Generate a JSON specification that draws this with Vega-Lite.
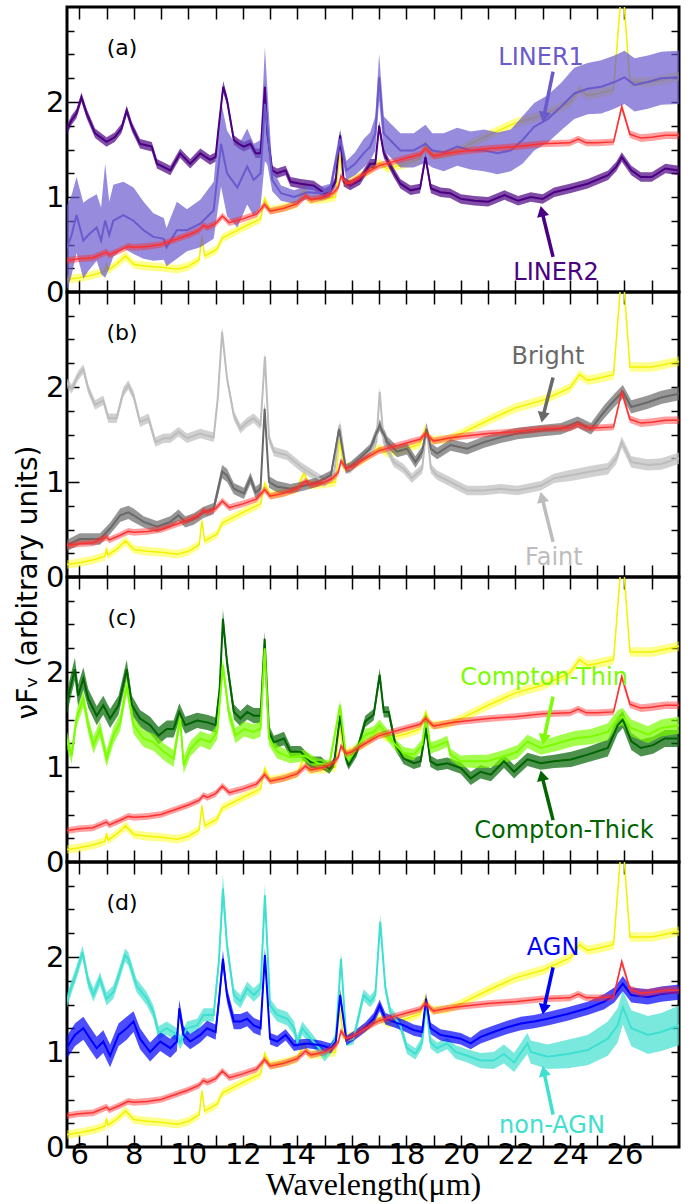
{
"$schema":"https://vega.github.io/schema/vega-lite/v6.json",
"background":"white",
"padding":{"left":12,"top":4,"right":5,"bottom":0},
"config":{"view":{"stroke":"black","strokeWidth":3},"axis":{"tickColor":"black","tickWidth":1.5,"labelColor":"black","labelFont":"DejaVu Sans","labelFontSize":29,"domain":false,"grid":false,"labelFlush":false,"labelOverlap":false}},
"datasets":{
"tmpl":[
{"s":"red","x":5.53,"y":0.33,"e":0.035},{"s":"red","x":6.0,"y":0.35,"e":0.035},{"s":"red","x":6.5,"y":0.36,"e":0.035},{"s":"red","x":7.0,"y":0.42,"e":0.035},{"s":"red","x":7.1,"y":0.39,"e":0.035},{"s":"red","x":7.5,"y":0.44,"e":0.035},{"s":"red","x":7.8,"y":0.48,"e":0.035},{"s":"red","x":8.0,"y":0.47,"e":0.035},{"s":"red","x":8.5,"y":0.48,"e":0.035},{"s":"red","x":9.0,"y":0.5,"e":0.035},{"s":"red","x":9.5,"y":0.55,"e":0.035},{"s":"red","x":10.0,"y":0.6,"e":0.035},{"s":"red","x":10.4,"y":0.65,"e":0.035},{"s":"red","x":10.55,"y":0.7,"e":0.035},{"s":"red","x":10.7,"y":0.68,"e":0.035},{"s":"red","x":11.0,"y":0.72,"e":0.035},{"s":"red","x":11.25,"y":0.8,"e":0.035},{"s":"red","x":11.5,"y":0.73,"e":0.035},{"s":"red","x":12.0,"y":0.77,"e":0.035},{"s":"red","x":12.5,"y":0.82,"e":0.035},{"s":"red","x":12.8,"y":0.92,"e":0.035},{"s":"red","x":13.0,"y":0.85,"e":0.035},{"s":"red","x":13.5,"y":0.88,"e":0.035},{"s":"red","x":14.0,"y":0.93,"e":0.035},{"s":"red","x":14.3,"y":1.01,"e":0.035},{"s":"red","x":14.5,"y":0.97,"e":0.035},{"s":"red","x":15.0,"y":1.0,"e":0.035},{"s":"red","x":15.3,"y":1.04,"e":0.035},{"s":"red","x":15.5,"y":1.1,"e":0.035},{"s":"red","x":15.6,"y":1.22,"e":0.035},{"s":"red","x":15.8,"y":1.14,"e":0.035},{"s":"red","x":16.0,"y":1.16,"e":0.035},{"s":"red","x":16.5,"y":1.25,"e":0.035},{"s":"red","x":17.0,"y":1.33,"e":0.035},{"s":"red","x":17.5,"y":1.37,"e":0.035},{"s":"red","x":18.0,"y":1.41,"e":0.035},{"s":"red","x":18.5,"y":1.45,"e":0.035},{"s":"red","x":18.7,"y":1.51,"e":0.035},{"s":"red","x":19.0,"y":1.43,"e":0.035},{"s":"red","x":19.5,"y":1.46,"e":0.035},{"s":"red","x":20.0,"y":1.48,"e":0.035},{"s":"red","x":21.0,"y":1.51,"e":0.035},{"s":"red","x":22.0,"y":1.53,"e":0.035},{"s":"red","x":23.0,"y":1.56,"e":0.035},{"s":"red","x":24.0,"y":1.57,"e":0.035},{"s":"red","x":24.3,"y":1.61,"e":0.035},{"s":"red","x":24.6,"y":1.57,"e":0.035},{"s":"red","x":25.0,"y":1.57,"e":0.035},{"s":"red","x":25.6,"y":1.58,"e":0.035},{"s":"red","x":25.9,"y":1.95,"e":0.04},{"s":"red","x":26.2,"y":1.66,"e":0.04},{"s":"red","x":26.6,"y":1.62,"e":0.04},{"s":"red","x":27.0,"y":1.63,"e":0.04},{"s":"red","x":27.5,"y":1.65,"e":0.04},{"s":"red","x":28.0,"y":1.65,"e":0.04},
{"s":"yellow","x":5.53,"y":0.13,"e":0.045},{"s":"yellow","x":6.0,"y":0.15,"e":0.045},{"s":"yellow","x":6.5,"y":0.18,"e":0.045},{"s":"yellow","x":6.95,"y":0.22,"e":0.045},{"s":"yellow","x":7.0,"y":0.3,"e":0.045},{"s":"yellow","x":7.05,"y":0.23,"e":0.045},{"s":"yellow","x":7.4,"y":0.3,"e":0.045},{"s":"yellow","x":7.7,"y":0.38,"e":0.05},{"s":"yellow","x":8.0,"y":0.29,"e":0.045},{"s":"yellow","x":8.5,"y":0.27,"e":0.045},{"s":"yellow","x":9.0,"y":0.26,"e":0.045},{"s":"yellow","x":9.6,"y":0.24,"e":0.045},{"s":"yellow","x":10.0,"y":0.27,"e":0.045},{"s":"yellow","x":10.4,"y":0.34,"e":0.045},{"s":"yellow","x":10.5,"y":0.59,"e":0.045},{"s":"yellow","x":10.6,"y":0.38,"e":0.045},{"s":"yellow","x":11.05,"y":0.45,"e":0.045},{"s":"yellow","x":11.25,"y":0.57,"e":0.045},{"s":"yellow","x":11.4,"y":0.59,"e":0.045},{"s":"yellow","x":12.0,"y":0.68,"e":0.045},{"s":"yellow","x":12.65,"y":0.77,"e":0.045},{"s":"yellow","x":12.8,"y":0.98,"e":0.045},{"s":"yellow","x":13.0,"y":0.86,"e":0.045},{"s":"yellow","x":13.5,"y":0.89,"e":0.045},{"s":"yellow","x":14.0,"y":0.93,"e":0.045},{"s":"yellow","x":14.25,"y":1.1,"e":0.045},{"s":"yellow","x":14.4,"y":0.97,"e":0.045},{"s":"yellow","x":15.0,"y":0.98,"e":0.045},{"s":"yellow","x":15.4,"y":1.0,"e":0.045},{"s":"yellow","x":15.55,"y":1.45,"e":0.045},{"s":"yellow","x":15.7,"y":1.15,"e":0.045},{"s":"yellow","x":16.0,"y":1.17,"e":0.045},{"s":"yellow","x":16.5,"y":1.25,"e":0.045},{"s":"yellow","x":17.0,"y":1.36,"e":0.045},{"s":"yellow","x":17.3,"y":1.3,"e":0.045},{"s":"yellow","x":18.0,"y":1.35,"e":0.045},{"s":"yellow","x":18.5,"y":1.4,"e":0.045},{"s":"yellow","x":18.7,"y":1.57,"e":0.045},{"s":"yellow","x":18.9,"y":1.44,"e":0.045},{"s":"yellow","x":19.5,"y":1.45,"e":0.045},{"s":"yellow","x":20.0,"y":1.51,"e":0.045},{"s":"yellow","x":21.0,"y":1.65,"e":0.05},{"s":"yellow","x":22.0,"y":1.78,"e":0.05},{"s":"yellow","x":23.0,"y":1.86,"e":0.05},{"s":"yellow","x":24.0,"y":1.99,"e":0.05},{"s":"yellow","x":24.35,"y":2.13,"e":0.05},{"s":"yellow","x":24.65,"y":2.07,"e":0.05},{"s":"yellow","x":25.0,"y":2.09,"e":0.05},{"s":"yellow","x":25.6,"y":2.13,"e":0.05},{"s":"yellow","x":25.92,"y":3.3,"e":0.05},{"s":"yellow","x":26.2,"y":2.21,"e":0.05},{"s":"yellow","x":27.0,"y":2.21,"e":0.05},{"s":"yellow","x":27.5,"y":2.24,"e":0.05},{"s":"yellow","x":28.0,"y":2.27,"e":0.05}
],
"spec":[
{"p":"a","s":"LINER2","x":5.53,"y":1.7,"e":0.05},{"p":"a","s":"LINER2","x":5.72,"y":1.81,"e":0.05},{"p":"a","s":"LINER2","x":5.9,"y":1.88,"e":0.05},{"p":"a","s":"LINER2","x":6.08,"y":2.05,"e":0.05},{"p":"a","s":"LINER2","x":6.27,"y":1.88,"e":0.05},{"p":"a","s":"LINER2","x":6.58,"y":1.67,"e":0.05},{"p":"a","s":"LINER2","x":7.0,"y":1.58,"e":0.05},{"p":"a","s":"LINER2","x":7.3,"y":1.63,"e":0.05},{"p":"a","s":"LINER2","x":7.55,"y":1.72,"e":0.05},{"p":"a","s":"LINER2","x":7.74,"y":1.91,"e":0.05},{"p":"a","s":"LINER2","x":7.93,"y":1.74,"e":0.05},{"p":"a","s":"LINER2","x":8.23,"y":1.56,"e":0.05},{"p":"a","s":"LINER2","x":8.66,"y":1.53,"e":0.05},{"p":"a","s":"LINER2","x":8.85,"y":1.35,"e":0.05},{"p":"a","s":"LINER2","x":9.34,"y":1.28,"e":0.05},{"p":"a","s":"LINER2","x":9.7,"y":1.46,"e":0.05},{"p":"a","s":"LINER2","x":10.07,"y":1.35,"e":0.05},{"p":"a","s":"LINER2","x":10.44,"y":1.46,"e":0.05},{"p":"a","s":"LINER2","x":10.8,"y":1.39,"e":0.05},{"p":"a","s":"LINER2","x":11.0,"y":1.42,"e":0.05},{"p":"a","s":"LINER2","x":11.1,"y":1.7,"e":0.05},{"p":"a","s":"LINER2","x":11.28,"y":2.16,"e":0.06},{"p":"a","s":"LINER2","x":11.42,"y":2.02,"e":0.05},{"p":"a","s":"LINER2","x":11.67,"y":1.6,"e":0.05},{"p":"a","s":"LINER2","x":11.85,"y":1.56,"e":0.05},{"p":"a","s":"LINER2","x":12.04,"y":1.53,"e":0.05},{"p":"a","s":"LINER2","x":12.28,"y":1.56,"e":0.05},{"p":"a","s":"LINER2","x":12.47,"y":1.46,"e":0.05},{"p":"a","s":"LINER2","x":12.65,"y":1.46,"e":0.05},{"p":"a","s":"LINER2","x":12.81,"y":2.16,"e":0.06},{"p":"a","s":"LINER2","x":12.9,"y":1.67,"e":0.05},{"p":"a","s":"LINER2","x":13.08,"y":1.28,"e":0.05},{"p":"a","s":"LINER2","x":13.26,"y":1.25,"e":0.05},{"p":"a","s":"LINER2","x":13.57,"y":1.28,"e":0.05},{"p":"a","s":"LINER2","x":13.75,"y":1.16,"e":0.05},{"p":"a","s":"LINER2","x":14.12,"y":1.14,"e":0.05},{"p":"a","s":"LINER2","x":14.6,"y":1.12,"e":0.05},{"p":"a","s":"LINER2","x":15.0,"y":1.04,"e":0.05},{"p":"a","s":"LINER2","x":15.2,"y":1.07,"e":0.05},{"p":"a","s":"LINER2","x":15.4,"y":1.16,"e":0.05},{"p":"a","s":"LINER2","x":15.57,"y":1.65,"e":0.05},{"p":"a","s":"LINER2","x":15.7,"y":1.16,"e":0.05},{"p":"a","s":"LINER2","x":15.94,"y":1.12,"e":0.05},{"p":"a","s":"LINER2","x":16.3,"y":1.18,"e":0.05},{"p":"a","s":"LINER2","x":16.67,"y":1.35,"e":0.05},{"p":"a","s":"LINER2","x":16.86,"y":1.35,"e":0.05},{"p":"a","s":"LINER2","x":17.0,"y":1.75,"e":0.05},{"p":"a","s":"LINER2","x":17.17,"y":1.46,"e":0.05},{"p":"a","s":"LINER2","x":17.53,"y":1.26,"e":0.05},{"p":"a","s":"LINER2","x":17.78,"y":1.14,"e":0.05},{"p":"a","s":"LINER2","x":18.15,"y":1.07,"e":0.05},{"p":"a","s":"LINER2","x":18.5,"y":1.09,"e":0.05},{"p":"a","s":"LINER2","x":18.7,"y":1.42,"e":0.05},{"p":"a","s":"LINER2","x":18.9,"y":1.09,"e":0.05},{"p":"a","s":"LINER2","x":19.25,"y":1.05,"e":0.05},{"p":"a","s":"LINER2","x":19.6,"y":1.04,"e":0.05},{"p":"a","s":"LINER2","x":20.0,"y":0.98,"e":0.05},{"p":"a","s":"LINER2","x":20.5,"y":0.96,"e":0.05},{"p":"a","s":"LINER2","x":21.0,"y":0.95,"e":0.05},{"p":"a","s":"LINER2","x":21.6,"y":1.02,"e":0.05},{"p":"a","s":"LINER2","x":22.1,"y":0.96,"e":0.05},{"p":"a","s":"LINER2","x":22.56,"y":1.0,"e":0.05},{"p":"a","s":"LINER2","x":23.0,"y":0.98,"e":0.05},{"p":"a","s":"LINER2","x":23.42,"y":1.05,"e":0.05},{"p":"a","s":"LINER2","x":24.0,"y":1.09,"e":0.05},{"p":"a","s":"LINER2","x":24.65,"y":1.14,"e":0.05},{"p":"a","s":"LINER2","x":25.4,"y":1.23,"e":0.05},{"p":"a","s":"LINER2","x":25.7,"y":1.32,"e":0.05},{"p":"a","s":"LINER2","x":25.9,"y":1.42,"e":0.05},{"p":"a","s":"LINER2","x":26.25,"y":1.28,"e":0.05},{"p":"a","s":"LINER2","x":26.6,"y":1.21,"e":0.05},{"p":"a","s":"LINER2","x":27.0,"y":1.21,"e":0.05},{"p":"a","s":"LINER2","x":27.5,"y":1.3,"e":0.05},{"p":"a","s":"LINER2","x":28.0,"y":1.28,"e":0.05},
{"p":"a","s":"LINER1","x":5.53,"y":0.45,"e":0.45},{"p":"a","s":"LINER1","x":5.72,"y":0.6,"e":0.42},{"p":"a","s":"LINER1","x":5.9,"y":0.81,"e":0.4},{"p":"a","s":"LINER1","x":6.15,"y":0.54,"e":0.4},{"p":"a","s":"LINER1","x":6.33,"y":0.6,"e":0.38},{"p":"a","s":"LINER1","x":6.64,"y":0.68,"e":0.35},{"p":"a","s":"LINER1","x":6.8,"y":0.54,"e":0.35},{"p":"a","s":"LINER1","x":6.95,"y":0.75,"e":0.6},{"p":"a","s":"LINER1","x":7.1,"y":0.6,"e":0.35},{"p":"a","s":"LINER1","x":7.25,"y":0.75,"e":0.38},{"p":"a","s":"LINER1","x":7.62,"y":0.81,"e":0.35},{"p":"a","s":"LINER1","x":7.99,"y":0.75,"e":0.35},{"p":"a","s":"LINER1","x":8.36,"y":0.65,"e":0.3},{"p":"a","s":"LINER1","x":8.72,"y":0.58,"e":0.25},{"p":"a","s":"LINER1","x":9.1,"y":0.56,"e":0.22},{"p":"a","s":"LINER1","x":9.2,"y":0.47,"e":0.2},{"p":"a","s":"LINER1","x":9.58,"y":0.65,"e":0.3},{"p":"a","s":"LINER1","x":9.95,"y":0.65,"e":0.22},{"p":"a","s":"LINER1","x":10.44,"y":0.72,"e":0.25},{"p":"a","s":"LINER1","x":10.93,"y":0.86,"e":0.3},{"p":"a","s":"LINER1","x":11.2,"y":1.56,"e":0.45},{"p":"a","s":"LINER1","x":11.42,"y":1.25,"e":0.45},{"p":"a","s":"LINER1","x":11.8,"y":1.1,"e":0.42},{"p":"a","s":"LINER1","x":12.16,"y":1.32,"e":0.4},{"p":"a","s":"LINER1","x":12.4,"y":1.18,"e":0.38},{"p":"a","s":"LINER1","x":12.65,"y":1.25,"e":0.35},{"p":"a","s":"LINER1","x":12.81,"y":1.98,"e":0.6},{"p":"a","s":"LINER1","x":12.9,"y":1.74,"e":0.4},{"p":"a","s":"LINER1","x":13.08,"y":1.18,"e":0.12},{"p":"a","s":"LINER1","x":13.4,"y":1.04,"e":0.08},{"p":"a","s":"LINER1","x":13.88,"y":1.0,"e":0.07},{"p":"a","s":"LINER1","x":14.37,"y":1.05,"e":0.07},{"p":"a","s":"LINER1","x":14.86,"y":1.04,"e":0.07},{"p":"a","s":"LINER1","x":15.2,"y":1.07,"e":0.07},{"p":"a","s":"LINER1","x":15.57,"y":1.61,"e":0.1},{"p":"a","s":"LINER1","x":15.8,"y":1.28,"e":0.1},{"p":"a","s":"LINER1","x":16.12,"y":1.35,"e":0.12},{"p":"a","s":"LINER1","x":16.43,"y":1.46,"e":0.15},{"p":"a","s":"LINER1","x":16.67,"y":1.53,"e":0.15},{"p":"a","s":"LINER1","x":16.86,"y":1.67,"e":0.18},{"p":"a","s":"LINER1","x":17.0,"y":2.26,"e":0.25},{"p":"a","s":"LINER1","x":17.17,"y":1.67,"e":0.18},{"p":"a","s":"LINER1","x":17.4,"y":1.6,"e":0.18},{"p":"a","s":"LINER1","x":17.78,"y":1.49,"e":0.18},{"p":"a","s":"LINER1","x":18.27,"y":1.49,"e":0.18},{"p":"a","s":"LINER1","x":18.7,"y":1.56,"e":0.2},{"p":"a","s":"LINER1","x":18.95,"y":1.49,"e":0.18},{"p":"a","s":"LINER1","x":19.37,"y":1.47,"e":0.2},{"p":"a","s":"LINER1","x":19.86,"y":1.53,"e":0.2},{"p":"a","s":"LINER1","x":20.36,"y":1.49,"e":0.2},{"p":"a","s":"LINER1","x":20.85,"y":1.49,"e":0.22},{"p":"a","s":"LINER1","x":21.34,"y":1.46,"e":0.22},{"p":"a","s":"LINER1","x":21.83,"y":1.49,"e":0.22},{"p":"a","s":"LINER1","x":22.26,"y":1.6,"e":0.25},{"p":"a","s":"LINER1","x":22.69,"y":1.74,"e":0.25},{"p":"a","s":"LINER1","x":23.18,"y":1.82,"e":0.25},{"p":"a","s":"LINER1","x":23.67,"y":1.95,"e":0.25},{"p":"a","s":"LINER1","x":24.16,"y":2.09,"e":0.27},{"p":"a","s":"LINER1","x":24.65,"y":2.14,"e":0.27},{"p":"a","s":"LINER1","x":25.15,"y":2.16,"e":0.28},{"p":"a","s":"LINER1","x":25.63,"y":2.21,"e":0.28},{"p":"a","s":"LINER1","x":26.0,"y":2.26,"e":0.28},{"p":"a","s":"LINER1","x":26.37,"y":2.18,"e":0.28},{"p":"a","s":"LINER1","x":26.86,"y":2.21,"e":0.28},{"p":"a","s":"LINER1","x":27.35,"y":2.25,"e":0.28},{"p":"a","s":"LINER1","x":28.0,"y":2.26,"e":0.28},
{"p":"b","s":"Faint","x":5.53,"y":2.05,"e":0.05},{"p":"b","s":"Faint","x":5.72,"y":1.98,"e":0.05},{"p":"b","s":"Faint","x":5.96,"y":2.12,"e":0.05},{"p":"b","s":"Faint","x":6.15,"y":2.19,"e":0.05},{"p":"b","s":"Faint","x":6.33,"y":1.98,"e":0.05},{"p":"b","s":"Faint","x":6.58,"y":1.81,"e":0.05},{"p":"b","s":"Faint","x":6.88,"y":1.86,"e":0.05},{"p":"b","s":"Faint","x":7.07,"y":1.67,"e":0.05},{"p":"b","s":"Faint","x":7.37,"y":1.67,"e":0.05},{"p":"b","s":"Faint","x":7.62,"y":1.95,"e":0.05},{"p":"b","s":"Faint","x":7.8,"y":2.02,"e":0.05},{"p":"b","s":"Faint","x":7.99,"y":1.91,"e":0.05},{"p":"b","s":"Faint","x":8.23,"y":1.63,"e":0.05},{"p":"b","s":"Faint","x":8.54,"y":1.67,"e":0.05},{"p":"b","s":"Faint","x":8.79,"y":1.42,"e":0.05},{"p":"b","s":"Faint","x":9.1,"y":1.46,"e":0.05},{"p":"b","s":"Faint","x":9.34,"y":1.46,"e":0.05},{"p":"b","s":"Faint","x":9.64,"y":1.53,"e":0.05},{"p":"b","s":"Faint","x":9.95,"y":1.46,"e":0.05},{"p":"b","s":"Faint","x":10.44,"y":1.51,"e":0.05},{"p":"b","s":"Faint","x":10.93,"y":1.47,"e":0.05},{"p":"b","s":"Faint","x":11.08,"y":1.88,"e":0.05},{"p":"b","s":"Faint","x":11.24,"y":2.58,"e":0.06},{"p":"b","s":"Faint","x":11.42,"y":2.09,"e":0.05},{"p":"b","s":"Faint","x":11.67,"y":1.7,"e":0.05},{"p":"b","s":"Faint","x":11.91,"y":1.56,"e":0.05},{"p":"b","s":"Faint","x":12.16,"y":1.63,"e":0.05},{"p":"b","s":"Faint","x":12.4,"y":1.67,"e":0.05},{"p":"b","s":"Faint","x":12.65,"y":1.6,"e":0.05},{"p":"b","s":"Faint","x":12.81,"y":2.32,"e":0.06},{"p":"b","s":"Faint","x":12.96,"y":1.46,"e":0.05},{"p":"b","s":"Faint","x":13.14,"y":1.32,"e":0.05},{"p":"b","s":"Faint","x":13.63,"y":1.28,"e":0.05},{"p":"b","s":"Faint","x":14.12,"y":1.16,"e":0.05},{"p":"b","s":"Faint","x":14.61,"y":1.07,"e":0.05},{"p":"b","s":"Faint","x":15.0,"y":1.0,"e":0.05},{"p":"b","s":"Faint","x":15.35,"y":1.09,"e":0.05},{"p":"b","s":"Faint","x":15.56,"y":1.6,"e":0.05},{"p":"b","s":"Faint","x":15.78,"y":1.14,"e":0.05},{"p":"b","s":"Faint","x":15.94,"y":1.14,"e":0.05},{"p":"b","s":"Faint","x":16.3,"y":1.25,"e":0.05},{"p":"b","s":"Faint","x":16.67,"y":1.32,"e":0.05},{"p":"b","s":"Faint","x":16.9,"y":1.42,"e":0.05},{"p":"b","s":"Faint","x":17.02,"y":1.95,"e":0.05},{"p":"b","s":"Faint","x":17.17,"y":1.42,"e":0.05},{"p":"b","s":"Faint","x":17.53,"y":1.21,"e":0.05},{"p":"b","s":"Faint","x":17.9,"y":1.14,"e":0.05},{"p":"b","s":"Faint","x":18.2,"y":1.04,"e":0.05},{"p":"b","s":"Faint","x":18.58,"y":1.14,"e":0.05},{"p":"b","s":"Faint","x":18.74,"y":1.58,"e":0.05},{"p":"b","s":"Faint","x":18.9,"y":1.14,"e":0.05},{"p":"b","s":"Faint","x":19.13,"y":1.07,"e":0.05},{"p":"b","s":"Faint","x":19.62,"y":1.0,"e":0.05},{"p":"b","s":"Faint","x":20.23,"y":0.91,"e":0.05},{"p":"b","s":"Faint","x":20.85,"y":0.91,"e":0.05},{"p":"b","s":"Faint","x":21.46,"y":0.93,"e":0.05},{"p":"b","s":"Faint","x":22.07,"y":0.91,"e":0.05},{"p":"b","s":"Faint","x":22.93,"y":0.96,"e":0.05},{"p":"b","s":"Faint","x":23.42,"y":1.04,"e":0.05},{"p":"b","s":"Faint","x":24.04,"y":1.07,"e":0.06},{"p":"b","s":"Faint","x":24.77,"y":1.11,"e":0.06},{"p":"b","s":"Faint","x":25.39,"y":1.14,"e":0.06},{"p":"b","s":"Faint","x":25.7,"y":1.25,"e":0.06},{"p":"b","s":"Faint","x":25.9,"y":1.42,"e":0.06},{"p":"b","s":"Faint","x":26.25,"y":1.21,"e":0.06},{"p":"b","s":"Faint","x":26.86,"y":1.18,"e":0.06},{"p":"b","s":"Faint","x":27.35,"y":1.19,"e":0.06},{"p":"b","s":"Faint","x":28.0,"y":1.25,"e":0.06},
{"p":"b","s":"Bright","x":5.53,"y":0.33,"e":0.06},{"p":"b","s":"Bright","x":6.02,"y":0.4,"e":0.06},{"p":"b","s":"Bright","x":6.76,"y":0.4,"e":0.06},{"p":"b","s":"Bright","x":7.13,"y":0.51,"e":0.06},{"p":"b","s":"Bright","x":7.5,"y":0.65,"e":0.07},{"p":"b","s":"Bright","x":7.8,"y":0.68,"e":0.07},{"p":"b","s":"Bright","x":7.99,"y":0.65,"e":0.07},{"p":"b","s":"Bright","x":8.36,"y":0.58,"e":0.06},{"p":"b","s":"Bright","x":8.85,"y":0.53,"e":0.06},{"p":"b","s":"Bright","x":9.34,"y":0.58,"e":0.06},{"p":"b","s":"Bright","x":9.64,"y":0.65,"e":0.06},{"p":"b","s":"Bright","x":9.89,"y":0.58,"e":0.06},{"p":"b","s":"Bright","x":10.2,"y":0.61,"e":0.06},{"p":"b","s":"Bright","x":10.56,"y":0.68,"e":0.06},{"p":"b","s":"Bright","x":10.93,"y":0.72,"e":0.06},{"p":"b","s":"Bright","x":11.24,"y":1.11,"e":0.07},{"p":"b","s":"Bright","x":11.42,"y":1.07,"e":0.07},{"p":"b","s":"Bright","x":11.67,"y":0.93,"e":0.06},{"p":"b","s":"Bright","x":12.04,"y":0.88,"e":0.06},{"p":"b","s":"Bright","x":12.28,"y":1.04,"e":0.06},{"p":"b","s":"Bright","x":12.47,"y":0.89,"e":0.06},{"p":"b","s":"Bright","x":12.65,"y":0.93,"e":0.06},{"p":"b","s":"Bright","x":12.8,"y":1.77,"e":0.07},{"p":"b","s":"Bright","x":12.96,"y":1.0,"e":0.06},{"p":"b","s":"Bright","x":13.26,"y":0.95,"e":0.06},{"p":"b","s":"Bright","x":13.75,"y":0.93,"e":0.05},{"p":"b","s":"Bright","x":14.25,"y":0.96,"e":0.05},{"p":"b","s":"Bright","x":14.74,"y":1.0,"e":0.05},{"p":"b","s":"Bright","x":15.23,"y":1.07,"e":0.05},{"p":"b","s":"Bright","x":15.53,"y":1.56,"e":0.05},{"p":"b","s":"Bright","x":15.78,"y":1.14,"e":0.05},{"p":"b","s":"Bright","x":15.94,"y":1.16,"e":0.05},{"p":"b","s":"Bright","x":16.3,"y":1.25,"e":0.05},{"p":"b","s":"Bright","x":16.67,"y":1.35,"e":0.05},{"p":"b","s":"Bright","x":17.02,"y":1.6,"e":0.06},{"p":"b","s":"Bright","x":17.3,"y":1.42,"e":0.06},{"p":"b","s":"Bright","x":17.66,"y":1.32,"e":0.06},{"p":"b","s":"Bright","x":18.02,"y":1.35,"e":0.06},{"p":"b","s":"Bright","x":18.33,"y":1.21,"e":0.06},{"p":"b","s":"Bright","x":18.58,"y":1.32,"e":0.06},{"p":"b","s":"Bright","x":18.74,"y":1.56,"e":0.06},{"p":"b","s":"Bright","x":18.9,"y":1.35,"e":0.06},{"p":"b","s":"Bright","x":19.13,"y":1.3,"e":0.06},{"p":"b","s":"Bright","x":19.62,"y":1.39,"e":0.06},{"p":"b","s":"Bright","x":20.23,"y":1.35,"e":0.06},{"p":"b","s":"Bright","x":20.85,"y":1.42,"e":0.06},{"p":"b","s":"Bright","x":21.46,"y":1.47,"e":0.06},{"p":"b","s":"Bright","x":22.07,"y":1.51,"e":0.06},{"p":"b","s":"Bright","x":22.93,"y":1.54,"e":0.06},{"p":"b","s":"Bright","x":23.67,"y":1.56,"e":0.06},{"p":"b","s":"Bright","x":24.28,"y":1.63,"e":0.06},{"p":"b","s":"Bright","x":24.77,"y":1.56,"e":0.06},{"p":"b","s":"Bright","x":25.26,"y":1.74,"e":0.07},{"p":"b","s":"Bright","x":25.63,"y":1.86,"e":0.07},{"p":"b","s":"Bright","x":25.94,"y":1.95,"e":0.07},{"p":"b","s":"Bright","x":26.25,"y":1.79,"e":0.07},{"p":"b","s":"Bright","x":26.86,"y":1.84,"e":0.07},{"p":"b","s":"Bright","x":27.35,"y":1.89,"e":0.07},{"p":"b","s":"Bright","x":28.0,"y":1.93,"e":0.07},
{"p":"c","s":"Compton-Thick","x":5.53,"y":1.65,"e":0.12},{"p":"c","s":"Compton-Thick","x":5.72,"y":1.89,"e":0.12},{"p":"c","s":"Compton-Thick","x":5.84,"y":2.03,"e":0.12},{"p":"c","s":"Compton-Thick","x":5.96,"y":1.75,"e":0.12},{"p":"c","s":"Compton-Thick","x":6.15,"y":1.93,"e":0.12},{"p":"c","s":"Compton-Thick","x":6.33,"y":1.72,"e":0.1},{"p":"c","s":"Compton-Thick","x":6.64,"y":1.54,"e":0.1},{"p":"c","s":"Compton-Thick","x":6.88,"y":1.65,"e":0.1},{"p":"c","s":"Compton-Thick","x":7.13,"y":1.51,"e":0.1},{"p":"c","s":"Compton-Thick","x":7.44,"y":1.65,"e":0.1},{"p":"c","s":"Compton-Thick","x":7.74,"y":2.03,"e":0.1},{"p":"c","s":"Compton-Thick","x":7.93,"y":1.65,"e":0.1},{"p":"c","s":"Compton-Thick","x":8.23,"y":1.51,"e":0.09},{"p":"c","s":"Compton-Thick","x":8.6,"y":1.44,"e":0.09},{"p":"c","s":"Compton-Thick","x":8.91,"y":1.33,"e":0.09},{"p":"c","s":"Compton-Thick","x":9.21,"y":1.4,"e":0.09},{"p":"c","s":"Compton-Thick","x":9.46,"y":1.4,"e":0.09},{"p":"c","s":"Compton-Thick","x":9.67,"y":1.58,"e":0.09},{"p":"c","s":"Compton-Thick","x":9.89,"y":1.44,"e":0.09},{"p":"c","s":"Compton-Thick","x":10.32,"y":1.49,"e":0.08},{"p":"c","s":"Compton-Thick","x":10.69,"y":1.47,"e":0.08},{"p":"c","s":"Compton-Thick","x":11.0,"y":1.44,"e":0.08},{"p":"c","s":"Compton-Thick","x":11.15,"y":1.82,"e":0.08},{"p":"c","s":"Compton-Thick","x":11.27,"y":2.56,"e":0.1},{"p":"c","s":"Compton-Thick","x":11.42,"y":2.1,"e":0.08},{"p":"c","s":"Compton-Thick","x":11.67,"y":1.58,"e":0.08},{"p":"c","s":"Compton-Thick","x":11.91,"y":1.51,"e":0.08},{"p":"c","s":"Compton-Thick","x":12.16,"y":1.58,"e":0.08},{"p":"c","s":"Compton-Thick","x":12.4,"y":1.54,"e":0.08},{"p":"c","s":"Compton-Thick","x":12.65,"y":1.54,"e":0.08},{"p":"c","s":"Compton-Thick","x":12.8,"y":2.35,"e":0.08},{"p":"c","s":"Compton-Thick","x":12.96,"y":1.37,"e":0.07},{"p":"c","s":"Compton-Thick","x":13.14,"y":1.26,"e":0.07},{"p":"c","s":"Compton-Thick","x":13.51,"y":1.3,"e":0.07},{"p":"c","s":"Compton-Thick","x":13.75,"y":1.16,"e":0.06},{"p":"c","s":"Compton-Thick","x":14.12,"y":1.16,"e":0.06},{"p":"c","s":"Compton-Thick","x":14.49,"y":1.05,"e":0.06},{"p":"c","s":"Compton-Thick","x":14.86,"y":1.05,"e":0.06},{"p":"c","s":"Compton-Thick","x":15.17,"y":0.98,"e":0.05},{"p":"c","s":"Compton-Thick","x":15.35,"y":1.05,"e":0.05},{"p":"c","s":"Compton-Thick","x":15.57,"y":1.54,"e":0.05},{"p":"c","s":"Compton-Thick","x":15.78,"y":1.09,"e":0.05},{"p":"c","s":"Compton-Thick","x":15.88,"y":1.02,"e":0.05},{"p":"c","s":"Compton-Thick","x":16.18,"y":1.16,"e":0.05},{"p":"c","s":"Compton-Thick","x":16.49,"y":1.48,"e":0.06},{"p":"c","s":"Compton-Thick","x":16.8,"y":1.55,"e":0.06},{"p":"c","s":"Compton-Thick","x":17.02,"y":1.97,"e":0.07},{"p":"c","s":"Compton-Thick","x":17.17,"y":1.58,"e":0.06},{"p":"c","s":"Compton-Thick","x":17.35,"y":1.58,"e":0.06},{"p":"c","s":"Compton-Thick","x":17.6,"y":1.23,"e":0.06},{"p":"c","s":"Compton-Thick","x":17.9,"y":1.09,"e":0.06},{"p":"c","s":"Compton-Thick","x":18.27,"y":1.04,"e":0.06},{"p":"c","s":"Compton-Thick","x":18.52,"y":1.06,"e":0.06},{"p":"c","s":"Compton-Thick","x":18.72,"y":1.41,"e":0.06},{"p":"c","s":"Compton-Thick","x":18.88,"y":1.06,"e":0.06},{"p":"c","s":"Compton-Thick","x":19.13,"y":1.02,"e":0.06},{"p":"c","s":"Compton-Thick","x":19.5,"y":1.04,"e":0.06},{"p":"c","s":"Compton-Thick","x":19.99,"y":0.99,"e":0.06},{"p":"c","s":"Compton-Thick","x":20.36,"y":0.88,"e":0.07},{"p":"c","s":"Compton-Thick","x":20.72,"y":0.95,"e":0.07},{"p":"c","s":"Compton-Thick","x":21.1,"y":0.92,"e":0.07},{"p":"c","s":"Compton-Thick","x":21.58,"y":1.06,"e":0.07},{"p":"c","s":"Compton-Thick","x":21.95,"y":0.95,"e":0.07},{"p":"c","s":"Compton-Thick","x":22.44,"y":1.08,"e":0.07},{"p":"c","s":"Compton-Thick","x":22.93,"y":1.04,"e":0.07},{"p":"c","s":"Compton-Thick","x":23.42,"y":1.06,"e":0.07},{"p":"c","s":"Compton-Thick","x":24.04,"y":1.08,"e":0.08},{"p":"c","s":"Compton-Thick","x":24.65,"y":1.13,"e":0.08},{"p":"c","s":"Compton-Thick","x":25.39,"y":1.2,"e":0.09},{"p":"c","s":"Compton-Thick","x":25.75,"y":1.44,"e":0.09},{"p":"c","s":"Compton-Thick","x":25.94,"y":1.5,"e":0.09},{"p":"c","s":"Compton-Thick","x":26.25,"y":1.27,"e":0.09},{"p":"c","s":"Compton-Thick","x":26.6,"y":1.2,"e":0.09},{"p":"c","s":"Compton-Thick","x":27.05,"y":1.23,"e":0.09},{"p":"c","s":"Compton-Thick","x":27.48,"y":1.3,"e":0.09},{"p":"c","s":"Compton-Thick","x":28.0,"y":1.3,"e":0.09},
{"p":"c","s":"Compton-Thin","x":5.53,"y":1.3,"e":0.09},{"p":"c","s":"Compton-Thin","x":5.72,"y":1.12,"e":0.09},{"p":"c","s":"Compton-Thin","x":5.9,"y":1.51,"e":0.09},{"p":"c","s":"Compton-Thin","x":6.15,"y":1.72,"e":0.09},{"p":"c","s":"Compton-Thin","x":6.33,"y":1.44,"e":0.09},{"p":"c","s":"Compton-Thin","x":6.52,"y":1.23,"e":0.09},{"p":"c","s":"Compton-Thin","x":6.76,"y":1.4,"e":0.09},{"p":"c","s":"Compton-Thin","x":7.0,"y":1.09,"e":0.09},{"p":"c","s":"Compton-Thin","x":7.25,"y":1.33,"e":0.09},{"p":"c","s":"Compton-Thin","x":7.5,"y":1.47,"e":0.09},{"p":"c","s":"Compton-Thin","x":7.74,"y":1.86,"e":0.09},{"p":"c","s":"Compton-Thin","x":7.99,"y":1.44,"e":0.09},{"p":"c","s":"Compton-Thin","x":8.36,"y":1.3,"e":0.09},{"p":"c","s":"Compton-Thin","x":8.72,"y":1.26,"e":0.09},{"p":"c","s":"Compton-Thin","x":9.1,"y":1.16,"e":0.09},{"p":"c","s":"Compton-Thin","x":9.46,"y":1.09,"e":0.09},{"p":"c","s":"Compton-Thin","x":9.7,"y":1.51,"e":0.09},{"p":"c","s":"Compton-Thin","x":9.83,"y":1.02,"e":0.09},{"p":"c","s":"Compton-Thin","x":10.07,"y":1.19,"e":0.08},{"p":"c","s":"Compton-Thin","x":10.44,"y":1.3,"e":0.08},{"p":"c","s":"Compton-Thin","x":10.8,"y":1.26,"e":0.08},{"p":"c","s":"Compton-Thin","x":11.06,"y":1.37,"e":0.08},{"p":"c","s":"Compton-Thin","x":11.27,"y":2.07,"e":0.08},{"p":"c","s":"Compton-Thin","x":11.48,"y":1.58,"e":0.08},{"p":"c","s":"Compton-Thin","x":11.73,"y":1.33,"e":0.08},{"p":"c","s":"Compton-Thin","x":12.04,"y":1.4,"e":0.08},{"p":"c","s":"Compton-Thin","x":12.4,"y":1.37,"e":0.08},{"p":"c","s":"Compton-Thin","x":12.65,"y":1.4,"e":0.08},{"p":"c","s":"Compton-Thin","x":12.8,"y":2.25,"e":0.08},{"p":"c","s":"Compton-Thin","x":12.96,"y":1.3,"e":0.07},{"p":"c","s":"Compton-Thin","x":13.26,"y":1.16,"e":0.07},{"p":"c","s":"Compton-Thin","x":13.75,"y":1.1,"e":0.06},{"p":"c","s":"Compton-Thin","x":14.25,"y":1.12,"e":0.06},{"p":"c","s":"Compton-Thin","x":14.74,"y":1.04,"e":0.05},{"p":"c","s":"Compton-Thin","x":15.17,"y":1.02,"e":0.05},{"p":"c","s":"Compton-Thin","x":15.57,"y":1.65,"e":0.05},{"p":"c","s":"Compton-Thin","x":15.78,"y":1.12,"e":0.05},{"p":"c","s":"Compton-Thin","x":15.88,"y":1.08,"e":0.05},{"p":"c","s":"Compton-Thin","x":16.18,"y":1.2,"e":0.05},{"p":"c","s":"Compton-Thin","x":16.49,"y":1.34,"e":0.06},{"p":"c","s":"Compton-Thin","x":16.8,"y":1.37,"e":0.06},{"p":"c","s":"Compton-Thin","x":17.02,"y":1.44,"e":0.06},{"p":"c","s":"Compton-Thin","x":17.3,"y":1.34,"e":0.06},{"p":"c","s":"Compton-Thin","x":17.6,"y":1.23,"e":0.06},{"p":"c","s":"Compton-Thin","x":17.9,"y":1.15,"e":0.06},{"p":"c","s":"Compton-Thin","x":18.27,"y":1.13,"e":0.06},{"p":"c","s":"Compton-Thin","x":18.58,"y":1.23,"e":0.06},{"p":"c","s":"Compton-Thin","x":18.72,"y":1.55,"e":0.06},{"p":"c","s":"Compton-Thin","x":18.88,"y":1.2,"e":0.06},{"p":"c","s":"Compton-Thin","x":19.19,"y":1.23,"e":0.06},{"p":"c","s":"Compton-Thin","x":19.5,"y":1.27,"e":0.06},{"p":"c","s":"Compton-Thin","x":19.62,"y":1.13,"e":0.06},{"p":"c","s":"Compton-Thin","x":19.99,"y":1.06,"e":0.06},{"p":"c","s":"Compton-Thin","x":20.48,"y":1.06,"e":0.07},{"p":"c","s":"Compton-Thin","x":20.97,"y":1.06,"e":0.07},{"p":"c","s":"Compton-Thin","x":21.58,"y":1.11,"e":0.07},{"p":"c","s":"Compton-Thin","x":22.07,"y":1.16,"e":0.07},{"p":"c","s":"Compton-Thin","x":22.44,"y":1.27,"e":0.07},{"p":"c","s":"Compton-Thin","x":22.93,"y":1.2,"e":0.07},{"p":"c","s":"Compton-Thin","x":23.55,"y":1.25,"e":0.08},{"p":"c","s":"Compton-Thin","x":24.16,"y":1.3,"e":0.08},{"p":"c","s":"Compton-Thin","x":24.77,"y":1.32,"e":0.08},{"p":"c","s":"Compton-Thin","x":25.39,"y":1.37,"e":0.09},{"p":"c","s":"Compton-Thin","x":25.75,"y":1.51,"e":0.09},{"p":"c","s":"Compton-Thin","x":25.94,"y":1.53,"e":0.09},{"p":"c","s":"Compton-Thin","x":26.25,"y":1.41,"e":0.09},{"p":"c","s":"Compton-Thin","x":26.86,"y":1.34,"e":0.09},{"p":"c","s":"Compton-Thin","x":27.35,"y":1.41,"e":0.09},{"p":"c","s":"Compton-Thin","x":28.0,"y":1.44,"e":0.09},
{"p":"d","s":"non-AGN","x":5.53,"y":1.52,"e":0.07},{"p":"d","s":"non-AGN","x":5.72,"y":1.69,"e":0.07},{"p":"d","s":"non-AGN","x":5.9,"y":1.84,"e":0.07},{"p":"d","s":"non-AGN","x":6.12,"y":2.05,"e":0.07},{"p":"d","s":"non-AGN","x":6.33,"y":1.74,"e":0.07},{"p":"d","s":"non-AGN","x":6.52,"y":1.6,"e":0.07},{"p":"d","s":"non-AGN","x":6.76,"y":1.77,"e":0.07},{"p":"d","s":"non-AGN","x":7.0,"y":1.56,"e":0.07},{"p":"d","s":"non-AGN","x":7.25,"y":1.63,"e":0.07},{"p":"d","s":"non-AGN","x":7.5,"y":1.85,"e":0.07},{"p":"d","s":"non-AGN","x":7.68,"y":2.02,"e":0.07},{"p":"d","s":"non-AGN","x":7.8,"y":1.98,"e":0.07},{"p":"d","s":"non-AGN","x":8.1,"y":1.7,"e":0.07},{"p":"d","s":"non-AGN","x":8.48,"y":1.56,"e":0.07},{"p":"d","s":"non-AGN","x":8.72,"y":1.42,"e":0.07},{"p":"d","s":"non-AGN","x":8.91,"y":1.2,"e":0.07},{"p":"d","s":"non-AGN","x":9.21,"y":1.25,"e":0.07},{"p":"d","s":"non-AGN","x":9.58,"y":1.18,"e":0.07},{"p":"d","s":"non-AGN","x":9.7,"y":1.1,"e":0.07},{"p":"d","s":"non-AGN","x":9.95,"y":1.25,"e":0.07},{"p":"d","s":"non-AGN","x":10.32,"y":1.28,"e":0.07},{"p":"d","s":"non-AGN","x":10.56,"y":1.39,"e":0.07},{"p":"d","s":"non-AGN","x":10.93,"y":1.39,"e":0.07},{"p":"d","s":"non-AGN","x":11.12,"y":1.95,"e":0.08},{"p":"d","s":"non-AGN","x":11.27,"y":2.72,"e":0.15},{"p":"d","s":"non-AGN","x":11.42,"y":2.12,"e":0.08},{"p":"d","s":"non-AGN","x":11.67,"y":1.6,"e":0.07},{"p":"d","s":"non-AGN","x":11.91,"y":1.53,"e":0.07},{"p":"d","s":"non-AGN","x":12.16,"y":1.67,"e":0.07},{"p":"d","s":"non-AGN","x":12.4,"y":1.6,"e":0.07},{"p":"d","s":"non-AGN","x":12.65,"y":1.67,"e":0.07},{"p":"d","s":"non-AGN","x":12.81,"y":2.65,"e":0.12},{"p":"d","s":"non-AGN","x":13.0,"y":1.49,"e":0.07},{"p":"d","s":"non-AGN","x":13.26,"y":1.39,"e":0.07},{"p":"d","s":"non-AGN","x":13.63,"y":1.35,"e":0.07},{"p":"d","s":"non-AGN","x":13.88,"y":1.25,"e":0.07},{"p":"d","s":"non-AGN","x":14.0,"y":1.1,"e":0.07},{"p":"d","s":"non-AGN","x":14.18,"y":1.25,"e":0.07},{"p":"d","s":"non-AGN","x":14.49,"y":1.14,"e":0.07},{"p":"d","s":"non-AGN","x":14.8,"y":1.04,"e":0.06},{"p":"d","s":"non-AGN","x":15.0,"y":0.96,"e":0.06},{"p":"d","s":"non-AGN","x":15.23,"y":1.04,"e":0.06},{"p":"d","s":"non-AGN","x":15.41,"y":1.14,"e":0.06},{"p":"d","s":"non-AGN","x":15.6,"y":1.98,"e":0.07},{"p":"d","s":"non-AGN","x":15.8,"y":1.12,"e":0.06},{"p":"d","s":"non-AGN","x":16.06,"y":1.14,"e":0.06},{"p":"d","s":"non-AGN","x":16.43,"y":1.6,"e":0.06},{"p":"d","s":"non-AGN","x":16.67,"y":1.53,"e":0.06},{"p":"d","s":"non-AGN","x":16.86,"y":1.6,"e":0.06},{"p":"d","s":"non-AGN","x":17.04,"y":2.37,"e":0.08},{"p":"d","s":"non-AGN","x":17.23,"y":1.67,"e":0.06},{"p":"d","s":"non-AGN","x":17.41,"y":1.42,"e":0.06},{"p":"d","s":"non-AGN","x":17.78,"y":1.28,"e":0.06},{"p":"d","s":"non-AGN","x":18.02,"y":1.04,"e":0.06},{"p":"d","s":"non-AGN","x":18.33,"y":0.98,"e":0.06},{"p":"d","s":"non-AGN","x":18.58,"y":1.1,"e":0.06},{"p":"d","s":"non-AGN","x":18.72,"y":1.53,"e":0.06},{"p":"d","s":"non-AGN","x":18.88,"y":1.1,"e":0.06},{"p":"d","s":"non-AGN","x":19.13,"y":1.04,"e":0.06},{"p":"d","s":"non-AGN","x":19.5,"y":1.09,"e":0.06},{"p":"d","s":"non-AGN","x":19.8,"y":1.0,"e":0.07},{"p":"d","s":"non-AGN","x":20.23,"y":0.96,"e":0.07},{"p":"d","s":"non-AGN","x":20.72,"y":0.91,"e":0.08},{"p":"d","s":"non-AGN","x":21.2,"y":0.91,"e":0.09},{"p":"d","s":"non-AGN","x":21.58,"y":0.98,"e":0.1},{"p":"d","s":"non-AGN","x":21.95,"y":0.89,"e":0.1},{"p":"d","s":"non-AGN","x":22.44,"y":1.09,"e":0.11},{"p":"d","s":"non-AGN","x":22.56,"y":1.0,"e":0.12},{"p":"d","s":"non-AGN","x":23.18,"y":0.95,"e":0.13},{"p":"d","s":"non-AGN","x":23.91,"y":0.98,"e":0.15},{"p":"d","s":"non-AGN","x":24.65,"y":1.02,"e":0.16},{"p":"d","s":"non-AGN","x":25.39,"y":1.14,"e":0.18},{"p":"d","s":"non-AGN","x":25.75,"y":1.28,"e":0.18},{"p":"d","s":"non-AGN","x":25.94,"y":1.47,"e":0.18},{"p":"d","s":"non-AGN","x":26.25,"y":1.25,"e":0.19},{"p":"d","s":"non-AGN","x":26.86,"y":1.18,"e":0.2},{"p":"d","s":"non-AGN","x":27.35,"y":1.21,"e":0.2},{"p":"d","s":"non-AGN","x":28.0,"y":1.28,"e":0.21},
{"p":"d","s":"AGN","x":5.53,"y":1.04,"e":0.12},{"p":"d","s":"AGN","x":5.84,"y":1.18,"e":0.12},{"p":"d","s":"AGN","x":6.15,"y":1.25,"e":0.12},{"p":"d","s":"AGN","x":6.4,"y":1.14,"e":0.12},{"p":"d","s":"AGN","x":6.64,"y":1.04,"e":0.12},{"p":"d","s":"AGN","x":6.88,"y":1.11,"e":0.12},{"p":"d","s":"AGN","x":7.13,"y":0.96,"e":0.12},{"p":"d","s":"AGN","x":7.44,"y":1.18,"e":0.12},{"p":"d","s":"AGN","x":7.74,"y":1.25,"e":0.12},{"p":"d","s":"AGN","x":7.99,"y":1.32,"e":0.11},{"p":"d","s":"AGN","x":8.23,"y":1.14,"e":0.11},{"p":"d","s":"AGN","x":8.6,"y":1.0,"e":0.1},{"p":"d","s":"AGN","x":8.97,"y":1.11,"e":0.1},{"p":"d","s":"AGN","x":9.34,"y":1.04,"e":0.1},{"p":"d","s":"AGN","x":9.58,"y":1.11,"e":0.1},{"p":"d","s":"AGN","x":9.67,"y":1.46,"e":0.09},{"p":"d","s":"AGN","x":9.83,"y":1.18,"e":0.09},{"p":"d","s":"AGN","x":10.07,"y":1.11,"e":0.08},{"p":"d","s":"AGN","x":10.44,"y":1.18,"e":0.08},{"p":"d","s":"AGN","x":10.69,"y":1.25,"e":0.08},{"p":"d","s":"AGN","x":11.0,"y":1.21,"e":0.08},{"p":"d","s":"AGN","x":11.12,"y":1.53,"e":0.08},{"p":"d","s":"AGN","x":11.27,"y":1.98,"e":0.09},{"p":"d","s":"AGN","x":11.42,"y":1.6,"e":0.08},{"p":"d","s":"AGN","x":11.67,"y":1.32,"e":0.08},{"p":"d","s":"AGN","x":11.91,"y":1.32,"e":0.08},{"p":"d","s":"AGN","x":12.16,"y":1.35,"e":0.08},{"p":"d","s":"AGN","x":12.4,"y":1.28,"e":0.08},{"p":"d","s":"AGN","x":12.65,"y":1.25,"e":0.08},{"p":"d","s":"AGN","x":12.81,"y":2.02,"e":0.08},{"p":"d","s":"AGN","x":13.0,"y":1.14,"e":0.06},{"p":"d","s":"AGN","x":13.26,"y":1.11,"e":0.06},{"p":"d","s":"AGN","x":13.57,"y":1.18,"e":0.06},{"p":"d","s":"AGN","x":13.88,"y":1.07,"e":0.06},{"p":"d","s":"AGN","x":14.37,"y":1.09,"e":0.05},{"p":"d","s":"AGN","x":14.86,"y":1.07,"e":0.05},{"p":"d","s":"AGN","x":15.23,"y":1.04,"e":0.05},{"p":"d","s":"AGN","x":15.41,"y":1.11,"e":0.05},{"p":"d","s":"AGN","x":15.57,"y":1.6,"e":0.06},{"p":"d","s":"AGN","x":15.8,"y":1.12,"e":0.05},{"p":"d","s":"AGN","x":16.12,"y":1.18,"e":0.05},{"p":"d","s":"AGN","x":16.49,"y":1.26,"e":0.05},{"p":"d","s":"AGN","x":16.8,"y":1.35,"e":0.06},{"p":"d","s":"AGN","x":17.02,"y":1.49,"e":0.06},{"p":"d","s":"AGN","x":17.23,"y":1.35,"e":0.06},{"p":"d","s":"AGN","x":17.53,"y":1.32,"e":0.06},{"p":"d","s":"AGN","x":17.9,"y":1.28,"e":0.06},{"p":"d","s":"AGN","x":18.27,"y":1.23,"e":0.06},{"p":"d","s":"AGN","x":18.58,"y":1.21,"e":0.06},{"p":"d","s":"AGN","x":18.72,"y":1.56,"e":0.06},{"p":"d","s":"AGN","x":18.88,"y":1.25,"e":0.06},{"p":"d","s":"AGN","x":19.25,"y":1.18,"e":0.06},{"p":"d","s":"AGN","x":19.62,"y":1.16,"e":0.06},{"p":"d","s":"AGN","x":19.99,"y":1.14,"e":0.06},{"p":"d","s":"AGN","x":20.36,"y":1.09,"e":0.06},{"p":"d","s":"AGN","x":20.72,"y":1.16,"e":0.07},{"p":"d","s":"AGN","x":21.2,"y":1.21,"e":0.07},{"p":"d","s":"AGN","x":21.7,"y":1.26,"e":0.07},{"p":"d","s":"AGN","x":22.2,"y":1.3,"e":0.07},{"p":"d","s":"AGN","x":22.69,"y":1.32,"e":0.07},{"p":"d","s":"AGN","x":23.18,"y":1.35,"e":0.07},{"p":"d","s":"AGN","x":23.91,"y":1.4,"e":0.07},{"p":"d","s":"AGN","x":24.65,"y":1.46,"e":0.07},{"p":"d","s":"AGN","x":25.26,"y":1.53,"e":0.08},{"p":"d","s":"AGN","x":25.63,"y":1.6,"e":0.08},{"p":"d","s":"AGN","x":25.94,"y":1.72,"e":0.08},{"p":"d","s":"AGN","x":26.25,"y":1.6,"e":0.08},{"p":"d","s":"AGN","x":26.86,"y":1.58,"e":0.08},{"p":"d","s":"AGN","x":27.35,"y":1.61,"e":0.08},{"p":"d","s":"AGN","x":28.0,"y":1.63,"e":0.08}
],
"notes":[
{"p":"a","t":"LINER1","s":"LINER1","x":22.94,"y":2.46},{"p":"a","t":"LINER2","s":"LINER2","x":23.49,"y":0.2},
{"p":"b","t":"Bright","s":"Bright","x":23.19,"y":2.32},{"p":"b","t":"Faint","s":"Faint","x":23.41,"y":0.2},
{"p":"c","t":"Compton-Thin","s":"Compton-Thin","x":23.05,"y":1.94},{"p":"c","t":"Compton-Thick","s":"Compton-Thick","x":23.78,"y":0.33},
{"p":"d","t":"AGN","s":"AGN","x":23.38,"y":2.09},{"p":"d","t":"non-AGN","s":"non-AGN","x":23.34,"y":0.22}
],
"plabels":[
{"p":"a","t":"(a)","x":7.57,"y":2.57},{"p":"b","t":"(b)","x":7.57,"y":2.57},{"p":"c","t":"(c)","x":7.57,"y":2.57},{"p":"d","t":"(d)","x":7.57,"y":2.57}
],
"arrows":[
{"p":"a","s":"LINER1","x":23.38,"y":2.32,"x2":23.04,"y2":1.84,"d":"down"},
{"p":"a","s":"LINER2","x":23.38,"y":0.37,"x2":22.97,"y2":0.85,"d":"up"},
{"p":"b","s":"Bright","x":23.38,"y":2.1,"x2":23.0,"y2":1.68,"d":"down"},
{"p":"b","s":"Faint","x":23.38,"y":0.37,"x2":22.97,"y2":0.84,"d":"up"},
{"p":"c","s":"Compton-Thin","x":23.38,"y":1.74,"x2":23.04,"y2":1.29,"d":"down"},
{"p":"c","s":"Compton-Thick","x":23.38,"y":0.44,"x2":22.97,"y2":0.91,"d":"up"},
{"p":"d","s":"AGN","x":23.38,"y":1.89,"x2":23.04,"y2":1.45,"d":"down"},
{"p":"d","s":"non-AGN","x":23.38,"y":0.34,"x2":23.04,"y2":0.8,"d":"up"}
]
},
"spacing":0,
"bounds":"flush",
"vconcat":[
{"width":612,"height":285,"resolve":{"axis":{"x":"independent","y":"independent"}},"layer":[
{"data":{"name":"tmpl"},"transform":[{"filter":"datum.s=='yellow'"}],"mark":{"type":"errorband","color":"#ffff00","opacity":0.45,"clip":true},"encoding":{"x":{"field":"x","type":"quantitative","scale":{"domain":[5.55,28],"nice":false,"zero":false},"axis":null},"y":{"field":"y","type":"quantitative","scale":{"domain":[0,3],"nice":false,"zero":false},"axis":null},"yError":{"field":"e"}}},
{"data":{"name":"tmpl"},"transform":[{"filter":"datum.s=='yellow'"}],"mark":{"type":"line","color":"#f2f200","strokeWidth":1.5,"clip":true},"encoding":{"x":{"field":"x","type":"quantitative","scale":{"domain":[5.55,28],"nice":false,"zero":false},"axis":{"orient":"bottom","values":[6,7,8,9,10,11,12,13,14,15,16,17,18,19,20,21,22,23,24,25,26,27],"tickSize":-12,"labels":false,"title":null}},"y":{"field":"y","type":"quantitative","scale":{"domain":[0,3],"nice":false,"zero":false},"axis":{"orient":"left","values":[0,1,2],"tickSize":-12,"labelPadding":15,"title":null}}}},
{"data":{"name":"spec"},"transform":[{"filter":"datum.p=='a'"}],"mark":{"type":"errorband","opacity":0.7,"clip":true},"encoding":{"x":{"field":"x","type":"quantitative","scale":{"domain":[5.55,28],"nice":false,"zero":false},"axis":null},"y":{"field":"y","type":"quantitative","scale":{"domain":[0,3],"nice":false,"zero":false},"axis":null},"yError":{"field":"e"},"color":{"field":"s","type":"nominal","scale":{"domain":["LINER1","LINER2","Bright","Faint","Compton-Thin","Compton-Thick","AGN","non-AGN"],"range":["#6a5acd","#4b0082","#696969","#bdbdbd","#7cfc00","#006400","#0000ff","#40e0d0"]},"legend":null}}},
{"data":{"name":"spec"},"transform":[{"filter":"datum.p=='a'"}],"mark":{"type":"line","strokeWidth":2,"clip":true},"encoding":{"x":{"field":"x","type":"quantitative","scale":{"domain":[5.55,28],"nice":false,"zero":false},"axis":{"orient":"top","values":[6,7,8,9,10,11,12,13,14,15,16,17,18,19,20,21,22,23,24,25,26,27],"tickSize":-12,"labels":false,"title":null}},"y":{"field":"y","type":"quantitative","scale":{"domain":[0,3],"nice":false,"zero":false},"axis":{"orient":"left","values":[0.25,0.5,0.75,1.25,1.5,1.75,2.25,2.5,2.75],"tickSize":-7,"labels":false,"title":null}},"color":{"field":"s","type":"nominal","scale":{"domain":["LINER1","LINER2","Bright","Faint","Compton-Thin","Compton-Thick","AGN","non-AGN"],"range":["#6a5acd","#4b0082","#696969","#bdbdbd","#7cfc00","#006400","#0000ff","#40e0d0"]},"legend":null}}},
{"data":{"name":"tmpl"},"transform":[{"filter":"datum.s=='red'"}],"mark":{"type":"errorband","color":"#ff2a2a","opacity":0.45,"clip":true},"encoding":{"x":{"field":"x","type":"quantitative","scale":{"domain":[5.55,28],"nice":false,"zero":false},"axis":null},"y":{"field":"y","type":"quantitative","scale":{"domain":[0,3],"nice":false,"zero":false},"axis":null},"yError":{"field":"e"}}},
{"data":{"name":"tmpl"},"transform":[{"filter":"datum.s=='red'"}],"mark":{"type":"line","color":"#ff3030","strokeWidth":1.5,"clip":true},"encoding":{"x":{"field":"x","type":"quantitative","scale":{"domain":[5.55,28],"nice":false,"zero":false},"axis":null},"y":{"field":"y","type":"quantitative","scale":{"domain":[0,3],"nice":false,"zero":false},"axis":{"orient":"right","values":[0.25,0.5,0.75,1,1.25,1.5,1.75,2,2.25,2.5,2.75],"tickSize":-8,"labels":false,"title":null}}}},
{"data":{"name":"notes"},"transform":[{"filter":"datum.p=='a'"}],"mark":{"type":"text","font":"DejaVu Sans","fontSize":24,"align":"center","baseline":"middle"},"encoding":{"x":{"field":"x","type":"quantitative","scale":{"domain":[5.55,28],"nice":false,"zero":false},"axis":null},"y":{"field":"y","type":"quantitative","scale":{"domain":[0,3],"nice":false,"zero":false},"axis":null},"text":{"field":"t"},"color":{"field":"s","type":"nominal","scale":{"domain":["LINER1","LINER2","Bright","Faint","Compton-Thin","Compton-Thick","AGN","non-AGN"],"range":["#6a5acd","#4b0082","#696969","#bdbdbd","#7cfc00","#006400","#0000ff","#40e0d0"]},"legend":null}}},
{"data":{"name":"plabels"},"transform":[{"filter":"datum.p=='a'"}],"mark":{"type":"text","font":"DejaVu Sans","fontSize":22,"align":"center","baseline":"middle","color":"black"},"encoding":{"x":{"field":"x","type":"quantitative","scale":{"domain":[5.55,28],"nice":false,"zero":false},"axis":null},"y":{"field":"y","type":"quantitative","scale":{"domain":[0,3],"nice":false,"zero":false},"axis":null},"text":{"field":"t"}}},
{"data":{"name":"arrows"},"transform":[{"filter":"datum.p=='a'"}],"mark":{"type":"rule","strokeWidth":3.5},"encoding":{"x":{"field":"x","type":"quantitative","scale":{"domain":[5.55,28],"nice":false,"zero":false},"axis":null},"y":{"field":"y","type":"quantitative","scale":{"domain":[0,3],"nice":false,"zero":false},"axis":null},"x2":{"field":"x2"},"y2":{"field":"y2"},"color":{"field":"s","type":"nominal","scale":{"domain":["LINER1","LINER2","Bright","Faint","Compton-Thin","Compton-Thick","AGN","non-AGN"],"range":["#6a5acd","#4b0082","#696969","#bdbdbd","#7cfc00","#006400","#0000ff","#40e0d0"]},"legend":null}}},
{"data":{"name":"arrows"},"transform":[{"filter":"datum.p=='a' && datum.d=='down'"}],"mark":{"type":"point","shape":"triangle-down","filled":true,"size":150,"angle":11,"opacity":1},"encoding":{"x":{"field":"x2","type":"quantitative","scale":{"domain":[5.55,28],"nice":false,"zero":false},"axis":null},"y":{"field":"y2","type":"quantitative","scale":{"domain":[0,3],"nice":false,"zero":false},"axis":null},"color":{"field":"s","type":"nominal","scale":{"domain":["LINER1","LINER2","Bright","Faint","Compton-Thin","Compton-Thick","AGN","non-AGN"],"range":["#6a5acd","#4b0082","#696969","#bdbdbd","#7cfc00","#006400","#0000ff","#40e0d0"]},"legend":null}}},
{"data":{"name":"arrows"},"transform":[{"filter":"datum.p=='a' && datum.d=='up'"}],"mark":{"type":"point","shape":"triangle-up","filled":true,"size":150,"angle":-13,"opacity":1},"encoding":{"x":{"field":"x2","type":"quantitative","scale":{"domain":[5.55,28],"nice":false,"zero":false},"axis":null},"y":{"field":"y2","type":"quantitative","scale":{"domain":[0,3],"nice":false,"zero":false},"axis":null},"color":{"field":"s","type":"nominal","scale":{"domain":["LINER1","LINER2","Bright","Faint","Compton-Thin","Compton-Thick","AGN","non-AGN"],"range":["#6a5acd","#4b0082","#696969","#bdbdbd","#7cfc00","#006400","#0000ff","#40e0d0"]},"legend":null}}}
]},
{"width":612,"height":285,"resolve":{"axis":{"x":"independent","y":"independent"}},"layer":[
{"data":{"name":"tmpl"},"transform":[{"filter":"datum.s=='yellow'"}],"mark":{"type":"errorband","color":"#ffff00","opacity":0.45,"clip":true},"encoding":{"x":{"field":"x","type":"quantitative","scale":{"domain":[5.55,28],"nice":false,"zero":false},"axis":null},"y":{"field":"y","type":"quantitative","scale":{"domain":[0,3],"nice":false,"zero":false},"axis":null},"yError":{"field":"e"}}},
{"data":{"name":"tmpl"},"transform":[{"filter":"datum.s=='yellow'"}],"mark":{"type":"line","color":"#f2f200","strokeWidth":1.5,"clip":true},"encoding":{"x":{"field":"x","type":"quantitative","scale":{"domain":[5.55,28],"nice":false,"zero":false},"axis":{"orient":"bottom","values":[6,7,8,9,10,11,12,13,14,15,16,17,18,19,20,21,22,23,24,25,26,27],"tickSize":-12,"labels":false,"title":null}},"y":{"field":"y","type":"quantitative","scale":{"domain":[0,3],"nice":false,"zero":false},"axis":{"orient":"left","values":[0,1,2],"tickSize":-12,"labelPadding":15,"title":"νFᵥ (arbitrary units)","titleFont":"DejaVu Sans","titleFontSize":28,"titleFontWeight":"normal","titleAngle":-90,"titleAlign":"center","titleBaseline":"middle","titleX":-39,"titleY":290}}}},
{"data":{"name":"spec"},"transform":[{"filter":"datum.p=='b'"}],"mark":{"type":"errorband","opacity":0.7,"clip":true},"encoding":{"x":{"field":"x","type":"quantitative","scale":{"domain":[5.55,28],"nice":false,"zero":false},"axis":null},"y":{"field":"y","type":"quantitative","scale":{"domain":[0,3],"nice":false,"zero":false},"axis":null},"yError":{"field":"e"},"color":{"field":"s","type":"nominal","scale":{"domain":["LINER1","LINER2","Bright","Faint","Compton-Thin","Compton-Thick","AGN","non-AGN"],"range":["#6a5acd","#4b0082","#696969","#bdbdbd","#7cfc00","#006400","#0000ff","#40e0d0"]},"legend":null}}},
{"data":{"name":"spec"},"transform":[{"filter":"datum.p=='b'"}],"mark":{"type":"line","strokeWidth":2,"clip":true},"encoding":{"x":{"field":"x","type":"quantitative","scale":{"domain":[5.55,28],"nice":false,"zero":false},"axis":{"orient":"top","values":[6,7,8,9,10,11,12,13,14,15,16,17,18,19,20,21,22,23,24,25,26,27],"tickSize":-12,"labels":false,"title":null}},"y":{"field":"y","type":"quantitative","scale":{"domain":[0,3],"nice":false,"zero":false},"axis":{"orient":"left","values":[0.25,0.5,0.75,1.25,1.5,1.75,2.25,2.5,2.75],"tickSize":-7,"labels":false,"title":null}},"color":{"field":"s","type":"nominal","scale":{"domain":["LINER1","LINER2","Bright","Faint","Compton-Thin","Compton-Thick","AGN","non-AGN"],"range":["#6a5acd","#4b0082","#696969","#bdbdbd","#7cfc00","#006400","#0000ff","#40e0d0"]},"legend":null}}},
{"data":{"name":"tmpl"},"transform":[{"filter":"datum.s=='red'"}],"mark":{"type":"errorband","color":"#ff2a2a","opacity":0.45,"clip":true},"encoding":{"x":{"field":"x","type":"quantitative","scale":{"domain":[5.55,28],"nice":false,"zero":false},"axis":null},"y":{"field":"y","type":"quantitative","scale":{"domain":[0,3],"nice":false,"zero":false},"axis":null},"yError":{"field":"e"}}},
{"data":{"name":"tmpl"},"transform":[{"filter":"datum.s=='red'"}],"mark":{"type":"line","color":"#ff3030","strokeWidth":1.5,"clip":true},"encoding":{"x":{"field":"x","type":"quantitative","scale":{"domain":[5.55,28],"nice":false,"zero":false},"axis":null},"y":{"field":"y","type":"quantitative","scale":{"domain":[0,3],"nice":false,"zero":false},"axis":{"orient":"right","values":[0.25,0.5,0.75,1,1.25,1.5,1.75,2,2.25,2.5,2.75],"tickSize":-8,"labels":false,"title":null}}}},
{"data":{"name":"notes"},"transform":[{"filter":"datum.p=='b'"}],"mark":{"type":"text","font":"DejaVu Sans","fontSize":24,"align":"center","baseline":"middle"},"encoding":{"x":{"field":"x","type":"quantitative","scale":{"domain":[5.55,28],"nice":false,"zero":false},"axis":null},"y":{"field":"y","type":"quantitative","scale":{"domain":[0,3],"nice":false,"zero":false},"axis":null},"text":{"field":"t"},"color":{"field":"s","type":"nominal","scale":{"domain":["LINER1","LINER2","Bright","Faint","Compton-Thin","Compton-Thick","AGN","non-AGN"],"range":["#6a5acd","#4b0082","#696969","#bdbdbd","#7cfc00","#006400","#0000ff","#40e0d0"]},"legend":null}}},
{"data":{"name":"plabels"},"transform":[{"filter":"datum.p=='b'"}],"mark":{"type":"text","font":"DejaVu Sans","fontSize":22,"align":"center","baseline":"middle","color":"black"},"encoding":{"x":{"field":"x","type":"quantitative","scale":{"domain":[5.55,28],"nice":false,"zero":false},"axis":null},"y":{"field":"y","type":"quantitative","scale":{"domain":[0,3],"nice":false,"zero":false},"axis":null},"text":{"field":"t"}}},
{"data":{"name":"arrows"},"transform":[{"filter":"datum.p=='b'"}],"mark":{"type":"rule","strokeWidth":3.5},"encoding":{"x":{"field":"x","type":"quantitative","scale":{"domain":[5.55,28],"nice":false,"zero":false},"axis":null},"y":{"field":"y","type":"quantitative","scale":{"domain":[0,3],"nice":false,"zero":false},"axis":null},"x2":{"field":"x2"},"y2":{"field":"y2"},"color":{"field":"s","type":"nominal","scale":{"domain":["LINER1","LINER2","Bright","Faint","Compton-Thin","Compton-Thick","AGN","non-AGN"],"range":["#6a5acd","#4b0082","#696969","#bdbdbd","#7cfc00","#006400","#0000ff","#40e0d0"]},"legend":null}}},
{"data":{"name":"arrows"},"transform":[{"filter":"datum.p=='b' && datum.d=='down'"}],"mark":{"type":"point","shape":"triangle-down","filled":true,"size":150,"angle":11,"opacity":1},"encoding":{"x":{"field":"x2","type":"quantitative","scale":{"domain":[5.55,28],"nice":false,"zero":false},"axis":null},"y":{"field":"y2","type":"quantitative","scale":{"domain":[0,3],"nice":false,"zero":false},"axis":null},"color":{"field":"s","type":"nominal","scale":{"domain":["LINER1","LINER2","Bright","Faint","Compton-Thin","Compton-Thick","AGN","non-AGN"],"range":["#6a5acd","#4b0082","#696969","#bdbdbd","#7cfc00","#006400","#0000ff","#40e0d0"]},"legend":null}}},
{"data":{"name":"arrows"},"transform":[{"filter":"datum.p=='b' && datum.d=='up'"}],"mark":{"type":"point","shape":"triangle-up","filled":true,"size":150,"angle":-13,"opacity":1},"encoding":{"x":{"field":"x2","type":"quantitative","scale":{"domain":[5.55,28],"nice":false,"zero":false},"axis":null},"y":{"field":"y2","type":"quantitative","scale":{"domain":[0,3],"nice":false,"zero":false},"axis":null},"color":{"field":"s","type":"nominal","scale":{"domain":["LINER1","LINER2","Bright","Faint","Compton-Thin","Compton-Thick","AGN","non-AGN"],"range":["#6a5acd","#4b0082","#696969","#bdbdbd","#7cfc00","#006400","#0000ff","#40e0d0"]},"legend":null}}}
]},
{"width":612,"height":285,"resolve":{"axis":{"x":"independent","y":"independent"}},"layer":[
{"data":{"name":"tmpl"},"transform":[{"filter":"datum.s=='yellow'"}],"mark":{"type":"errorband","color":"#ffff00","opacity":0.45,"clip":true},"encoding":{"x":{"field":"x","type":"quantitative","scale":{"domain":[5.55,28],"nice":false,"zero":false},"axis":null},"y":{"field":"y","type":"quantitative","scale":{"domain":[0,3],"nice":false,"zero":false},"axis":null},"yError":{"field":"e"}}},
{"data":{"name":"tmpl"},"transform":[{"filter":"datum.s=='yellow'"}],"mark":{"type":"line","color":"#f2f200","strokeWidth":1.5,"clip":true},"encoding":{"x":{"field":"x","type":"quantitative","scale":{"domain":[5.55,28],"nice":false,"zero":false},"axis":{"orient":"bottom","values":[6,7,8,9,10,11,12,13,14,15,16,17,18,19,20,21,22,23,24,25,26,27],"tickSize":-12,"labels":false,"title":null}},"y":{"field":"y","type":"quantitative","scale":{"domain":[0,3],"nice":false,"zero":false},"axis":{"orient":"left","values":[0,1,2],"tickSize":-12,"labelPadding":15,"title":null}}}},
{"data":{"name":"spec"},"transform":[{"filter":"datum.p=='c'"}],"mark":{"type":"errorband","opacity":0.7,"clip":true},"encoding":{"x":{"field":"x","type":"quantitative","scale":{"domain":[5.55,28],"nice":false,"zero":false},"axis":null},"y":{"field":"y","type":"quantitative","scale":{"domain":[0,3],"nice":false,"zero":false},"axis":null},"yError":{"field":"e"},"color":{"field":"s","type":"nominal","scale":{"domain":["LINER1","LINER2","Bright","Faint","Compton-Thin","Compton-Thick","AGN","non-AGN"],"range":["#6a5acd","#4b0082","#696969","#bdbdbd","#7cfc00","#006400","#0000ff","#40e0d0"]},"legend":null}}},
{"data":{"name":"spec"},"transform":[{"filter":"datum.p=='c'"}],"mark":{"type":"line","strokeWidth":2,"clip":true},"encoding":{"x":{"field":"x","type":"quantitative","scale":{"domain":[5.55,28],"nice":false,"zero":false},"axis":{"orient":"top","values":[6,7,8,9,10,11,12,13,14,15,16,17,18,19,20,21,22,23,24,25,26,27],"tickSize":-12,"labels":false,"title":null}},"y":{"field":"y","type":"quantitative","scale":{"domain":[0,3],"nice":false,"zero":false},"axis":{"orient":"left","values":[0.25,0.5,0.75,1.25,1.5,1.75,2.25,2.5,2.75],"tickSize":-7,"labels":false,"title":null}},"color":{"field":"s","type":"nominal","scale":{"domain":["LINER1","LINER2","Bright","Faint","Compton-Thin","Compton-Thick","AGN","non-AGN"],"range":["#6a5acd","#4b0082","#696969","#bdbdbd","#7cfc00","#006400","#0000ff","#40e0d0"]},"legend":null}}},
{"data":{"name":"tmpl"},"transform":[{"filter":"datum.s=='red'"}],"mark":{"type":"errorband","color":"#ff2a2a","opacity":0.45,"clip":true},"encoding":{"x":{"field":"x","type":"quantitative","scale":{"domain":[5.55,28],"nice":false,"zero":false},"axis":null},"y":{"field":"y","type":"quantitative","scale":{"domain":[0,3],"nice":false,"zero":false},"axis":null},"yError":{"field":"e"}}},
{"data":{"name":"tmpl"},"transform":[{"filter":"datum.s=='red'"}],"mark":{"type":"line","color":"#ff3030","strokeWidth":1.5,"clip":true},"encoding":{"x":{"field":"x","type":"quantitative","scale":{"domain":[5.55,28],"nice":false,"zero":false},"axis":null},"y":{"field":"y","type":"quantitative","scale":{"domain":[0,3],"nice":false,"zero":false},"axis":{"orient":"right","values":[0.25,0.5,0.75,1,1.25,1.5,1.75,2,2.25,2.5,2.75],"tickSize":-8,"labels":false,"title":null}}}},
{"data":{"name":"notes"},"transform":[{"filter":"datum.p=='c'"}],"mark":{"type":"text","font":"DejaVu Sans","fontSize":24,"align":"center","baseline":"middle"},"encoding":{"x":{"field":"x","type":"quantitative","scale":{"domain":[5.55,28],"nice":false,"zero":false},"axis":null},"y":{"field":"y","type":"quantitative","scale":{"domain":[0,3],"nice":false,"zero":false},"axis":null},"text":{"field":"t"},"color":{"field":"s","type":"nominal","scale":{"domain":["LINER1","LINER2","Bright","Faint","Compton-Thin","Compton-Thick","AGN","non-AGN"],"range":["#6a5acd","#4b0082","#696969","#bdbdbd","#7cfc00","#006400","#0000ff","#40e0d0"]},"legend":null}}},
{"data":{"name":"plabels"},"transform":[{"filter":"datum.p=='c'"}],"mark":{"type":"text","font":"DejaVu Sans","fontSize":22,"align":"center","baseline":"middle","color":"black"},"encoding":{"x":{"field":"x","type":"quantitative","scale":{"domain":[5.55,28],"nice":false,"zero":false},"axis":null},"y":{"field":"y","type":"quantitative","scale":{"domain":[0,3],"nice":false,"zero":false},"axis":null},"text":{"field":"t"}}},
{"data":{"name":"arrows"},"transform":[{"filter":"datum.p=='c'"}],"mark":{"type":"rule","strokeWidth":3.5},"encoding":{"x":{"field":"x","type":"quantitative","scale":{"domain":[5.55,28],"nice":false,"zero":false},"axis":null},"y":{"field":"y","type":"quantitative","scale":{"domain":[0,3],"nice":false,"zero":false},"axis":null},"x2":{"field":"x2"},"y2":{"field":"y2"},"color":{"field":"s","type":"nominal","scale":{"domain":["LINER1","LINER2","Bright","Faint","Compton-Thin","Compton-Thick","AGN","non-AGN"],"range":["#6a5acd","#4b0082","#696969","#bdbdbd","#7cfc00","#006400","#0000ff","#40e0d0"]},"legend":null}}},
{"data":{"name":"arrows"},"transform":[{"filter":"datum.p=='c' && datum.d=='down'"}],"mark":{"type":"point","shape":"triangle-down","filled":true,"size":150,"angle":11,"opacity":1},"encoding":{"x":{"field":"x2","type":"quantitative","scale":{"domain":[5.55,28],"nice":false,"zero":false},"axis":null},"y":{"field":"y2","type":"quantitative","scale":{"domain":[0,3],"nice":false,"zero":false},"axis":null},"color":{"field":"s","type":"nominal","scale":{"domain":["LINER1","LINER2","Bright","Faint","Compton-Thin","Compton-Thick","AGN","non-AGN"],"range":["#6a5acd","#4b0082","#696969","#bdbdbd","#7cfc00","#006400","#0000ff","#40e0d0"]},"legend":null}}},
{"data":{"name":"arrows"},"transform":[{"filter":"datum.p=='c' && datum.d=='up'"}],"mark":{"type":"point","shape":"triangle-up","filled":true,"size":150,"angle":-13,"opacity":1},"encoding":{"x":{"field":"x2","type":"quantitative","scale":{"domain":[5.55,28],"nice":false,"zero":false},"axis":null},"y":{"field":"y2","type":"quantitative","scale":{"domain":[0,3],"nice":false,"zero":false},"axis":null},"color":{"field":"s","type":"nominal","scale":{"domain":["LINER1","LINER2","Bright","Faint","Compton-Thin","Compton-Thick","AGN","non-AGN"],"range":["#6a5acd","#4b0082","#696969","#bdbdbd","#7cfc00","#006400","#0000ff","#40e0d0"]},"legend":null}}}
]},
{"width":612,"height":285,"resolve":{"axis":{"x":"independent","y":"independent"}},"layer":[
{"data":{"name":"tmpl"},"transform":[{"filter":"datum.s=='yellow'"}],"mark":{"type":"errorband","color":"#ffff00","opacity":0.45,"clip":true},"encoding":{"x":{"field":"x","type":"quantitative","scale":{"domain":[5.55,28],"nice":false,"zero":false},"axis":null},"y":{"field":"y","type":"quantitative","scale":{"domain":[0,3],"nice":false,"zero":false},"axis":null},"yError":{"field":"e"}}},
{"data":{"name":"tmpl"},"transform":[{"filter":"datum.s=='yellow'"}],"mark":{"type":"line","color":"#f2f200","strokeWidth":1.5,"clip":true},"encoding":{"x":{"field":"x","type":"quantitative","scale":{"domain":[5.55,28],"nice":false,"zero":false},"axis":{"orient":"bottom","values":[6,7,8,9,10,11,12,13,14,15,16,17,18,19,20,21,22,23,24,25,26,27],"tickSize":-12,"labels":true,"labelExpr":"datum.value % 2 == 0 ? datum.label : ''","labelPadding":5,"title":"Wavelength(μm)","titleFont":"Liberation Serif","titleFontSize":32,"titleFontWeight":"normal","titlePadding":0}},"y":{"field":"y","type":"quantitative","scale":{"domain":[0,3],"nice":false,"zero":false},"axis":{"orient":"left","values":[0,1,2],"tickSize":-12,"labelPadding":15,"title":null}}}},
{"data":{"name":"spec"},"transform":[{"filter":"datum.p=='d'"}],"mark":{"type":"errorband","opacity":0.7,"clip":true},"encoding":{"x":{"field":"x","type":"quantitative","scale":{"domain":[5.55,28],"nice":false,"zero":false},"axis":null},"y":{"field":"y","type":"quantitative","scale":{"domain":[0,3],"nice":false,"zero":false},"axis":null},"yError":{"field":"e"},"color":{"field":"s","type":"nominal","scale":{"domain":["LINER1","LINER2","Bright","Faint","Compton-Thin","Compton-Thick","AGN","non-AGN"],"range":["#6a5acd","#4b0082","#696969","#bdbdbd","#7cfc00","#006400","#0000ff","#40e0d0"]},"legend":null}}},
{"data":{"name":"spec"},"transform":[{"filter":"datum.p=='d'"}],"mark":{"type":"line","strokeWidth":2,"clip":true},"encoding":{"x":{"field":"x","type":"quantitative","scale":{"domain":[5.55,28],"nice":false,"zero":false},"axis":{"orient":"top","values":[6,7,8,9,10,11,12,13,14,15,16,17,18,19,20,21,22,23,24,25,26,27],"tickSize":-12,"labels":false,"title":null}},"y":{"field":"y","type":"quantitative","scale":{"domain":[0,3],"nice":false,"zero":false},"axis":{"orient":"left","values":[0.25,0.5,0.75,1.25,1.5,1.75,2.25,2.5,2.75],"tickSize":-7,"labels":false,"title":null}},"color":{"field":"s","type":"nominal","scale":{"domain":["LINER1","LINER2","Bright","Faint","Compton-Thin","Compton-Thick","AGN","non-AGN"],"range":["#6a5acd","#4b0082","#696969","#bdbdbd","#7cfc00","#006400","#0000ff","#40e0d0"]},"legend":null}}},
{"data":{"name":"tmpl"},"transform":[{"filter":"datum.s=='red'"}],"mark":{"type":"errorband","color":"#ff2a2a","opacity":0.45,"clip":true},"encoding":{"x":{"field":"x","type":"quantitative","scale":{"domain":[5.55,28],"nice":false,"zero":false},"axis":null},"y":{"field":"y","type":"quantitative","scale":{"domain":[0,3],"nice":false,"zero":false},"axis":null},"yError":{"field":"e"}}},
{"data":{"name":"tmpl"},"transform":[{"filter":"datum.s=='red'"}],"mark":{"type":"line","color":"#ff3030","strokeWidth":1.5,"clip":true},"encoding":{"x":{"field":"x","type":"quantitative","scale":{"domain":[5.55,28],"nice":false,"zero":false},"axis":null},"y":{"field":"y","type":"quantitative","scale":{"domain":[0,3],"nice":false,"zero":false},"axis":{"orient":"right","values":[0.25,0.5,0.75,1,1.25,1.5,1.75,2,2.25,2.5,2.75],"tickSize":-8,"labels":false,"title":null}}}},
{"data":{"name":"notes"},"transform":[{"filter":"datum.p=='d'"}],"mark":{"type":"text","font":"DejaVu Sans","fontSize":24,"align":"center","baseline":"middle"},"encoding":{"x":{"field":"x","type":"quantitative","scale":{"domain":[5.55,28],"nice":false,"zero":false},"axis":null},"y":{"field":"y","type":"quantitative","scale":{"domain":[0,3],"nice":false,"zero":false},"axis":null},"text":{"field":"t"},"color":{"field":"s","type":"nominal","scale":{"domain":["LINER1","LINER2","Bright","Faint","Compton-Thin","Compton-Thick","AGN","non-AGN"],"range":["#6a5acd","#4b0082","#696969","#bdbdbd","#7cfc00","#006400","#0000ff","#40e0d0"]},"legend":null}}},
{"data":{"name":"plabels"},"transform":[{"filter":"datum.p=='d'"}],"mark":{"type":"text","font":"DejaVu Sans","fontSize":22,"align":"center","baseline":"middle","color":"black"},"encoding":{"x":{"field":"x","type":"quantitative","scale":{"domain":[5.55,28],"nice":false,"zero":false},"axis":null},"y":{"field":"y","type":"quantitative","scale":{"domain":[0,3],"nice":false,"zero":false},"axis":null},"text":{"field":"t"}}},
{"data":{"name":"arrows"},"transform":[{"filter":"datum.p=='d'"}],"mark":{"type":"rule","strokeWidth":3.5},"encoding":{"x":{"field":"x","type":"quantitative","scale":{"domain":[5.55,28],"nice":false,"zero":false},"axis":null},"y":{"field":"y","type":"quantitative","scale":{"domain":[0,3],"nice":false,"zero":false},"axis":null},"x2":{"field":"x2"},"y2":{"field":"y2"},"color":{"field":"s","type":"nominal","scale":{"domain":["LINER1","LINER2","Bright","Faint","Compton-Thin","Compton-Thick","AGN","non-AGN"],"range":["#6a5acd","#4b0082","#696969","#bdbdbd","#7cfc00","#006400","#0000ff","#40e0d0"]},"legend":null}}},
{"data":{"name":"arrows"},"transform":[{"filter":"datum.p=='d' && datum.d=='down'"}],"mark":{"type":"point","shape":"triangle-down","filled":true,"size":150,"angle":11,"opacity":1},"encoding":{"x":{"field":"x2","type":"quantitative","scale":{"domain":[5.55,28],"nice":false,"zero":false},"axis":null},"y":{"field":"y2","type":"quantitative","scale":{"domain":[0,3],"nice":false,"zero":false},"axis":null},"color":{"field":"s","type":"nominal","scale":{"domain":["LINER1","LINER2","Bright","Faint","Compton-Thin","Compton-Thick","AGN","non-AGN"],"range":["#6a5acd","#4b0082","#696969","#bdbdbd","#7cfc00","#006400","#0000ff","#40e0d0"]},"legend":null}}},
{"data":{"name":"arrows"},"transform":[{"filter":"datum.p=='d' && datum.d=='up'"}],"mark":{"type":"point","shape":"triangle-up","filled":true,"size":150,"angle":-13,"opacity":1},"encoding":{"x":{"field":"x2","type":"quantitative","scale":{"domain":[5.55,28],"nice":false,"zero":false},"axis":null},"y":{"field":"y2","type":"quantitative","scale":{"domain":[0,3],"nice":false,"zero":false},"axis":null},"color":{"field":"s","type":"nominal","scale":{"domain":["LINER1","LINER2","Bright","Faint","Compton-Thin","Compton-Thick","AGN","non-AGN"],"range":["#6a5acd","#4b0082","#696969","#bdbdbd","#7cfc00","#006400","#0000ff","#40e0d0"]},"legend":null}}}
]}
]
}
